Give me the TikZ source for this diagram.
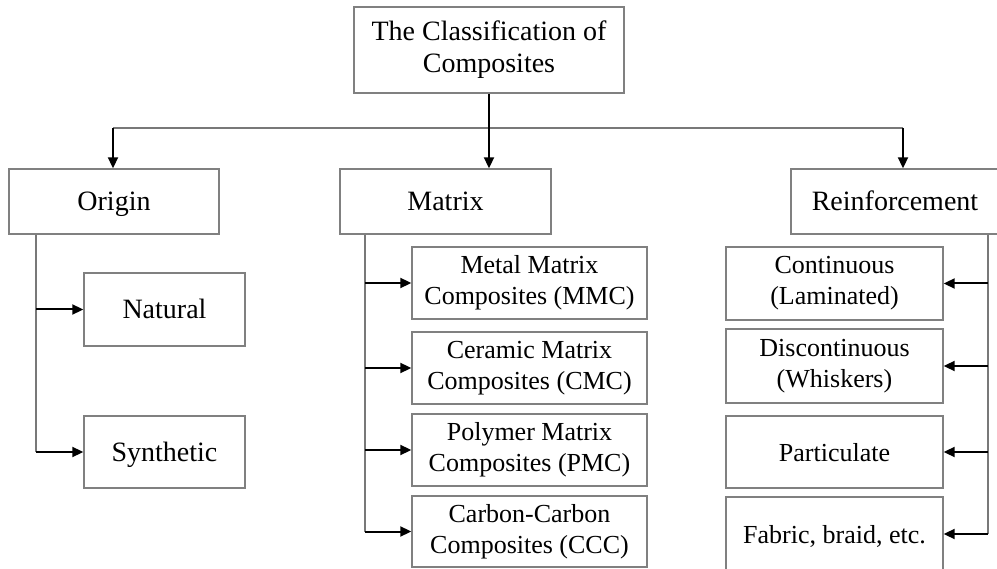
\documentclass[tikz,border=0pt]{standalone}
\usepackage{fontspec}
\setmainfont{Liberation Serif}
\usetikzlibrary{arrows.meta}
\definecolor{boxgray}{RGB}{128,128,128}
\definecolor{linegray}{RGB}{120,120,120}
\tikzset{
  box/.style={draw=boxgray, line width=1.4pt, fill=white, inner sep=0pt, align=center,
    font=\fontsize{28}{32}\selectfont},
  subbox/.style={box, font=\fontsize{26}{31}\selectfont},
  oneline/.style={text height=21.5pt, text depth=3.5pt},
  trunk/.style={draw=linegray, line width=1.5pt},
  arr/.style={draw=black, line width=2pt, -{Triangle[length=11pt,width=10pt]}},
}
\begin{document}
\begin{tikzpicture}[x=1pt,y=-1pt]
\useasboundingbox (0,0) rectangle (997,569);
\clip (0,0) rectangle (997,569);
% level 0 and 1
\node[box, minimum width=270pt, minimum height=86pt] (top) at (489,50) {The Classification of\\Composites};
\node[box, oneline, minimum width=210pt, minimum height=65pt] (origin) at (114,201.5) {Origin};
\node[box, oneline, minimum width=211pt, minimum height=65pt] (matrix) at (445.5,201.5) {Matrix};
\node[box, oneline, minimum width=208pt, minimum height=65pt] (reinf) at (895,201.5) {Reinforcement};
% origin children
\node[box, oneline, minimum width=161pt, minimum height=73pt] (natural) at (164.5,309.5) {Natural};
\node[box, oneline, minimum width=161pt, minimum height=72pt] (synthetic) at (164.5,452) {Synthetic};
% matrix children
\node[subbox, minimum width=235pt, minimum height=72pt] (mmc) at (529.5,283) {Metal Matrix\\Composites (MMC)};
\node[subbox, minimum width=235pt, minimum height=72pt] (cmc) at (529.5,368) {Ceramic Matrix\\Composites (CMC)};
\node[subbox, minimum width=235pt, minimum height=72pt] (pmc) at (529.5,450) {Polymer Matrix\\Composites (PMC)};
\node[subbox, minimum width=235pt, minimum height=71pt] (ccc) at (529.5,531.5) {Carbon-Carbon\\Composites (CCC)};
% reinforcement children
\node[subbox, minimum width=217pt, minimum height=73pt] (cont) at (834.5,283.5) {Continuous\\(Laminated)};
\node[subbox, minimum width=217pt, minimum height=74pt] (disc) at (834.5,366) {Discontinuous\\(Whiskers)};
\node[subbox, oneline, minimum width=217pt, minimum height=72pt] (part) at (834.5,452) {Particulate};
\node[subbox, oneline, minimum width=217pt, minimum height=74pt] (fab) at (834.5,534) {Fabric, braid, etc.};
% top distribution
\coordinate (hl) at (113,128);
\coordinate (hr) at (903,128);
\draw[trunk] (hl) -- (hr);
\draw[arr] (hl) -- (hl |- origin.north);
\draw[arr] (top.south) -- (top.south |- matrix.north);
\draw[arr] (hr) -- (hr |- reinf.north);
% origin branch
\coordinate (ox) at (36,0);
\draw[trunk] (ox |- origin.south) -- (ox |- synthetic.west);
\draw[arr] (ox |- natural.west) -- (natural.west);
\draw[arr] (ox |- synthetic.west) -- (synthetic.west);
% matrix branch
\coordinate (mx) at (365,0);
\draw[trunk] (mx |- matrix.south) -- (mx |- ccc.west);
\draw[arr] (mx |- mmc.west) -- (mmc.west);
\draw[arr] (mx |- cmc.west) -- (cmc.west);
\draw[arr] (mx |- pmc.west) -- (pmc.west);
\draw[arr] (mx |- ccc.west) -- (ccc.west);
% reinforcement branch
\coordinate (rx) at (988,0);
\draw[trunk] (rx |- reinf.south) -- (rx |- fab.east);
\draw[arr] (rx |- cont.east) -- (cont.east);
\draw[arr] (rx |- disc.east) -- (disc.east);
\draw[arr] (rx |- part.east) -- (part.east);
\draw[arr] (rx |- fab.east) -- (fab.east);
\end{tikzpicture}
\end{document}
